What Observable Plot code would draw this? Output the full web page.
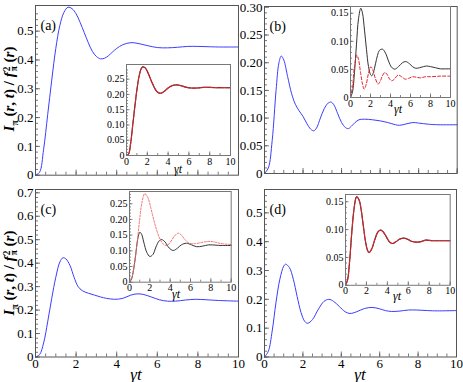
<!DOCTYPE html>
<html><head><meta charset="utf-8">
<script src="https://cdn.jsdelivr.net/npm/d3@7"></script>
<script src="https://cdn.jsdelivr.net/npm/@observablehq/plot@0.6"></script>
<style>
body{margin:0;background:#fff}
#c{position:relative;width:463px;height:382px;overflow:hidden}
#c svg{position:absolute}
#c, #c svg, #c svg text, .lab{font-family:"Liberation Serif","Times New Roman",Times,"DejaVu Serif",serif !important}
.lab{position:absolute;white-space:nowrap;color:#000;line-height:1}
.stk{display:inline-block;vertical-align:middle;line-height:0.75;font-size:0.62em;text-align:left;margin-left:1px}
.stk span{display:block}
</style></head><body><div id="c"></div>
<script>
// ---- tick labels ----
const xTicks = [0, 2, 4, 6, 8, 10];
const yTicksA = [0, 0.1, 0.2, 0.3, 0.4, 0.5];
const yLabelsA = ["0", "0.1", "0.2", "0.3", "0.4", "0.5"];
const yTicksB = [0, 0.05, 0.10, 0.15, 0.20, 0.25, 0.30];
const yLabelsB = ["0", "0.05", "0.10", "0.15", "0.20", "0.25", "0.30"];
const yTicksC = [0, 0.1, 0.2, 0.3, 0.4, 0.5, 0.6, 0.7];
const yLabelsC = ["0", "0.1", "0.2", "0.3", "0.4", "0.5", "0.6", "0.7"];
const yTicksD = [0, 0.1, 0.2, 0.3, 0.4, 0.5];
const yLabelsD = ["0", "0.1", "0.2", "0.3", "0.4", "0.5"];
const yTicksInA = [0, 0.05, 0.10, 0.15, 0.20, 0.25];
const yLabelsInA = ["0", "0.05", "0.10", "0.15", "0.20", "0.25"];
const yTicksInB = [0, 0.05, 0.10, 0.15];
const yLabelsInB = ["0", "0.05", "0.10", "0.15"];

// ---- panel (a) ----
const tA = [0,0.2,0.4,0.6,0.8,1.0,1.2,1.4,1.6,1.8,2.0,2.2,2.4,2.6,2.8,3.0,3.2,3.4,3.6,3.8,4.0,4.3,4.7,5.0,5.5,6.0,6.5,7.0,7.5,8.0,8.5,9,10];
const vA = [0,0.01,0.09,0.21,0.33,0.44,0.52,0.565,0.583,0.578,0.56,0.53,0.495,0.46,0.43,0.412,0.404,0.406,0.415,0.428,0.44,0.453,0.46,0.458,0.45,0.443,0.442,0.444,0.447,0.447,0.446,0.445,0.445];
const tAin = [0,0.2,0.4,0.6,0.8,1.0,1.2,1.4,1.55,1.8,2.0,2.2,2.4,2.6,2.8,3.0,3.2,3.4,3.7,4.0,4.4,4.85,5.3,5.8,6.2,6.8,7.4,8,9,10];
const vAin = [0,0.005,0.04,0.1,0.16,0.215,0.258,0.283,0.29,0.287,0.276,0.26,0.243,0.228,0.215,0.207,0.204,0.205,0.212,0.221,0.229,0.231,0.228,0.223,0.221,0.221,0.223,0.223,0.222,0.222];

// ---- panel (b) ----
const tB = [0,0.2,0.4,0.6,0.75,0.87,1.0,1.2,1.4,1.6,1.8,2.0,2.2,2.4,2.55,2.7,2.9,3.1,3.3,3.45,3.6,3.8,4.0,4.2,4.35,4.5,4.7,4.9,5.2,5.6,6.0,6.4,6.8,7.0,7.3,7.7,8.0,8.5,9,10];
const vB = [0,0.01,0.06,0.15,0.2,0.212,0.205,0.175,0.145,0.125,0.113,0.103,0.09,0.08,0.077,0.082,0.1,0.117,0.127,0.129,0.124,0.108,0.092,0.083,0.081,0.085,0.092,0.097,0.098,0.097,0.095,0.092,0.088,0.087,0.089,0.092,0.091,0.089,0.088,0.088];
const tBinK = [0,0.2,0.4,0.6,0.8,1.03,1.2,1.4,1.6,1.8,2.0,2.13,2.3,2.5,2.7,2.9,3.2,3.5,3.8,4.1,4.43,4.8,5.2,5.53,5.9,6.2,6.53,6.9,7.3,7.63,8.0,8.5,9,9.5,10];
const vBinK = [0,0.01,0.045,0.095,0.14,0.159,0.15,0.12,0.085,0.055,0.041,0.0386,0.045,0.06,0.075,0.084,0.086,0.079,0.065,0.054,0.0505,0.055,0.062,0.064,0.06,0.055,0.052,0.053,0.055,0.056,0.055,0.053,0.051,0.051,0.051];
const tBinR = [0,0.2,0.4,0.63,0.8,1.0,1.2,1.36,1.55,1.8,2.03,2.25,2.5,2.76,3.0,3.2,3.43,3.7,3.9,4.13,4.4,4.76,5.1,5.46,5.8,6.2,6.6,7,7.5,8,9,10];
const vBinR = [0,0.02,0.055,0.0754,0.068,0.045,0.024,0.015,0.022,0.043,0.0546,0.048,0.033,0.024,0.03,0.039,0.0445,0.04,0.033,0.0297,0.033,0.04,0.037,0.0327,0.034,0.037,0.036,0.035,0.037,0.037,0.038,0.038];

// ---- panel (c) ----
const tC = [0,0.2,0.4,0.6,0.8,1.0,1.2,1.35,1.5,1.7,1.9,2.1,2.3,2.6,2.9,3.2,3.5,3.9,4.3,4.7,5.0,5.3,5.7,6.1,6.5,6.9,7.4,7.9,8.4,9,10];
const vC = [0,0.01,0.06,0.15,0.25,0.34,0.405,0.423,0.418,0.39,0.34,0.30,0.283,0.272,0.264,0.256,0.25,0.246,0.25,0.264,0.269,0.267,0.256,0.244,0.238,0.238,0.243,0.246,0.244,0.241,0.238];
const tCinR = [0,0.2,0.4,0.6,0.8,1.0,1.2,1.5,1.8,2.1,2.4,2.7,3.0,3.3,3.69,4.0,4.4,4.76,5.1,5.5,5.9,6.5,7.0,7.5,7.96,8.5,9,10];
const vCinR = [0,0.01,0.04,0.085,0.14,0.2,0.25,0.282,0.27,0.236,0.197,0.163,0.138,0.122,0.117,0.127,0.146,0.156,0.15,0.134,0.124,0.123,0.126,0.129,0.13,0.127,0.123,0.12];
const tCinK = [0,0.2,0.4,0.6,0.8,1.02,1.2,1.4,1.7,2.0,2.3,2.6,2.9,3.15,3.5,3.9,4.3,4.7,5.1,5.6,6.1,6.6,7.2,7.8,8.5,9,10];
const vCinK = [0,0.01,0.04,0.085,0.135,0.159,0.152,0.128,0.095,0.082,0.088,0.112,0.131,0.136,0.128,0.109,0.101,0.108,0.119,0.124,0.119,0.113,0.115,0.119,0.118,0.117,0.117];

// ---- panel (d) ----
const tD = [0,0.2,0.4,0.6,0.8,1.0,1.1,1.3,1.5,1.7,1.9,2.1,2.25,2.5,2.8,3.1,3.35,3.6,3.9,4.2,4.45,4.8,5.2,5.6,6.0,6.3,6.6,7.0,7.5,7.9,8.5,9,10];
const vD = [0,0.02,0.09,0.19,0.27,0.315,0.322,0.31,0.27,0.21,0.155,0.123,0.117,0.13,0.165,0.193,0.2,0.193,0.175,0.157,0.151,0.157,0.168,0.172,0.167,0.161,0.158,0.159,0.163,0.163,0.161,0.16,0.161];
const tDin = [0,0.2,0.4,0.6,0.8,1.0,1.08,1.3,1.5,1.7,1.9,2.1,2.25,2.5,2.8,3.1,3.36,3.6,3.9,4.2,4.47,4.8,5.2,5.58,6.0,6.3,6.7,7.1,7.7,8.3,9,10];
const vDin = [0,0.01,0.045,0.095,0.135,0.157,0.159,0.153,0.135,0.107,0.08,0.063,0.0587,0.065,0.082,0.096,0.099,0.096,0.087,0.078,0.075,0.078,0.083,0.0845,0.082,0.079,0.0775,0.078,0.081,0.08,0.08,0.08];

const BLUE = "#3c3cff", RED = "#e8202a", PINK = "#f07070", BLACK = "#333";
const FONT = '"Liberation Serif","Times New Roman",Times,"DejaVu Serif",serif';
const root = document.getElementById("c");
const pts = (t, v) => t.map((d, i) => ({t: d, v: v[i]}));

function panel(o) {
  const ml = 34, mr = 3, mt = 3, mb = 3;
  const fw = o.R - o.L, fh = o.B - o.T;
  const W = fw + ml + mr, H = fh + mt + mb;
  const fmt = new Map(o.yTicks.map((d, i) => [d, o.yLabels[i]]));
  const fs = o.fs;
  const marks = [];
  if (o.inset) marks.push(Plot.frame({fill: "white", stroke: null}));
  for (const s of o.series) {
    marks.push(Plot.line(pts(s.t, s.v), {x: "t", y: "v", stroke: s.color, strokeWidth: s.w ?? 1, strokeDasharray: s.dash, curve: "catmull-rom"}));
  }
  const tickC = o.inset ? "#666" : "#555";
  marks.push(Plot.ruleX(o.xMinor, {x: d => d, insetTop: fh - o.minLen, stroke: tickC, strokeWidth: 0.8}));
  marks.push(Plot.ruleX(xTicks, {x: d => d, insetTop: fh - o.majLen, stroke: tickC, strokeWidth: 0.8}));
  marks.push(Plot.ruleY(o.yMinor, {y: d => d, insetRight: fw - o.minLen, stroke: tickC, strokeWidth: 0.8}));
  marks.push(Plot.ruleY(o.yTicks, {y: d => d, insetRight: fw - o.majLen, stroke: tickC, strokeWidth: 0.8}));
  marks.push(Plot.frame({stroke: o.inset ? "#777" : "#555", strokeWidth: 1}));
  marks.push(Plot.axisY({ticks: o.yTicks, tickSize: 0, tickPadding: 2, tickFormat: d => fmt.get(d), label: null, fontSize: fs, fontFamily: FONT}));
  if (o.xLab) marks.push(Plot.axisX({ticks: xTicks, tickSize: 0, tickPadding: 2, tickFormat: d => String(d), label: null, fontSize: fs, fontFamily: FONT}));
  if (o.tag) marks.push(Plot.text([o.tag], {text: d => d, frameAnchor: "top-left", dx: 5, dy: 15, fontSize: 14, textAnchor: "start", fontFamily: FONT}));
  const svg = Plot.plot({
    width: W, height: H, marginLeft: ml, marginRight: mr, marginTop: mt, marginBottom: mb,
    x: {domain: [0, 10], axis: null}, y: {domain: o.yDomain, axis: null},
    style: {fontFamily: FONT, fontSize: fs + "px", background: "transparent", overflow: "visible", color: "#000"},
    marks
  });
  svg.style.left = (o.L - ml) + "px";
  svg.style.top = (o.T - mt) + "px";
  root.append(svg);
}

const mainMinorX = d3.range(0, 10.01, 0.5);
const inMinorX = d3.range(0, 10.01, 1);

// main panels
panel({L: 35, T: 5, R: 238, B: 174.7, yDomain: [0, 0.589], yTicks: yTicksA, yLabels: yLabelsA, yMinor: d3.range(0, 0.58, 0.02), xMinor: mainMinorX, xLab: false, fs: 13, majLen: 5, minLen: 3, tag: "(a)", series: [{t: tA, v: vA, color: BLUE}]});
panel({L: 264, T: 5.7, R: 456.7, B: 172.7, yDomain: [0, 0.3015], yTicks: yTicksB, yLabels: yLabelsB, yMinor: d3.range(0, 0.30, 0.01), xMinor: mainMinorX, xLab: false, fs: 13, majLen: 5, minLen: 3, tag: "(b)", series: [{t: tB, v: vB, color: BLUE}]});
panel({L: 35, T: 189, R: 238, B: 356.5, yDomain: [0, 0.714], yTicks: yTicksC, yLabels: yLabelsC, yMinor: d3.range(0, 0.71, 0.02), xMinor: mainMinorX, xLab: true, fs: 13, majLen: 5, minLen: 3, tag: "(c)", series: [{t: tC, v: vC, color: BLUE}]});
panel({L: 264, T: 189, R: 456, B: 356.5, yDomain: [0, 0.581], yTicks: yTicksD, yLabels: yLabelsD, yMinor: d3.range(0, 0.58, 0.02), xMinor: mainMinorX, xLab: true, fs: 13, majLen: 5, minLen: 3, tag: "(d)", series: [{t: tD, v: vD, color: BLUE}]});

// insets
panel({inset: true, L: 126, T: 64, R: 230, B: 155, yDomain: [0, 0.298], yTicks: yTicksInA, yLabels: yLabelsInA, yMinor: d3.range(0, 0.29, 0.01), xMinor: inMinorX, xLab: true, fs: 10, majLen: 3.5, minLen: 2, series: [{t: tAin, v: vAin, color: BLACK, w: 1.2}, {t: tAin, v: vAin, color: RED, w: 1.1, dash: "4,1.5"}]});
panel({inset: true, L: 349.7, T: 5.7, R: 449.7, B: 96.7, yDomain: [0, 0.162], yTicks: yTicksInB, yLabels: yLabelsInB, yMinor: d3.range(0, 0.16, 0.01), xMinor: inMinorX, xLab: true, fs: 10, majLen: 3.5, minLen: 2, series: [{t: tBinK, v: vBinK, color: BLACK, w: 1}, {t: tBinR, v: vBinR, color: RED, w: 1, dash: "3,2"}]});
panel({inset: true, L: 129, T: 191, R: 230.7, B: 281.7, yDomain: [0, 0.289], yTicks: yTicksInA, yLabels: yLabelsInA, yMinor: d3.range(0, 0.285, 0.01), xMinor: inMinorX, xLab: true, fs: 10, majLen: 3.5, minLen: 2, series: [{t: tCinK, v: vCinK, color: BLACK, w: 1}, {t: tCinR, v: vCinR, color: PINK, w: 1, dash: "2,1.5"}]});
panel({inset: true, L: 345, T: 193.5, R: 449.7, B: 284.3, yDomain: [0, 0.163], yTicks: yTicksInB, yLabels: yLabelsInB, yMinor: d3.range(0, 0.16, 0.01), xMinor: inMinorX, xLab: true, fs: 10, majLen: 3.5, minLen: 2, series: [{t: tDin, v: vDin, color: BLACK, w: 1.2}, {t: tDin, v: vDin, color: RED, w: 1.1, dash: "4,1.5"}]});

// text labels
function lab(html, x, y, style) {
  const d = document.createElement("div");
  d.className = "lab";
  d.innerHTML = html;
  d.style.left = x + "px";
  d.style.top = y + "px";
  d.style.transform = "translate(-50%,-50%)" + (style.rot ? " rotate(-90deg)" : "");
  d.style.fontSize = style.fs + "px";
  root.append(d);
}
const yl = '<b><i>I</i><sub style="font-size:0.65em">π</sub> (<i>r</i>, <i>t</i>) / <i>f</i><span class="stk"><span>2</span><span>π</span></span> (<i>r</i>)</b>';
lab(yl, 11, 89, {rot: true, fs: 15});
lab(yl, 11, 273, {rot: true, fs: 15});
lab('<i>γt</i>', 136, 374, {fs: 17});
lab('<i>γt</i>', 360, 374, {fs: 17});
lab('<i>γt</i>', 178, 169, {fs: 12});
lab('<i>γt</i>', 398, 109, {fs: 12});
lab('<i>γt</i>', 176, 294, {fs: 12});
lab('<i>γt</i>', 397, 296, {fs: 12});
</script></body></html>
